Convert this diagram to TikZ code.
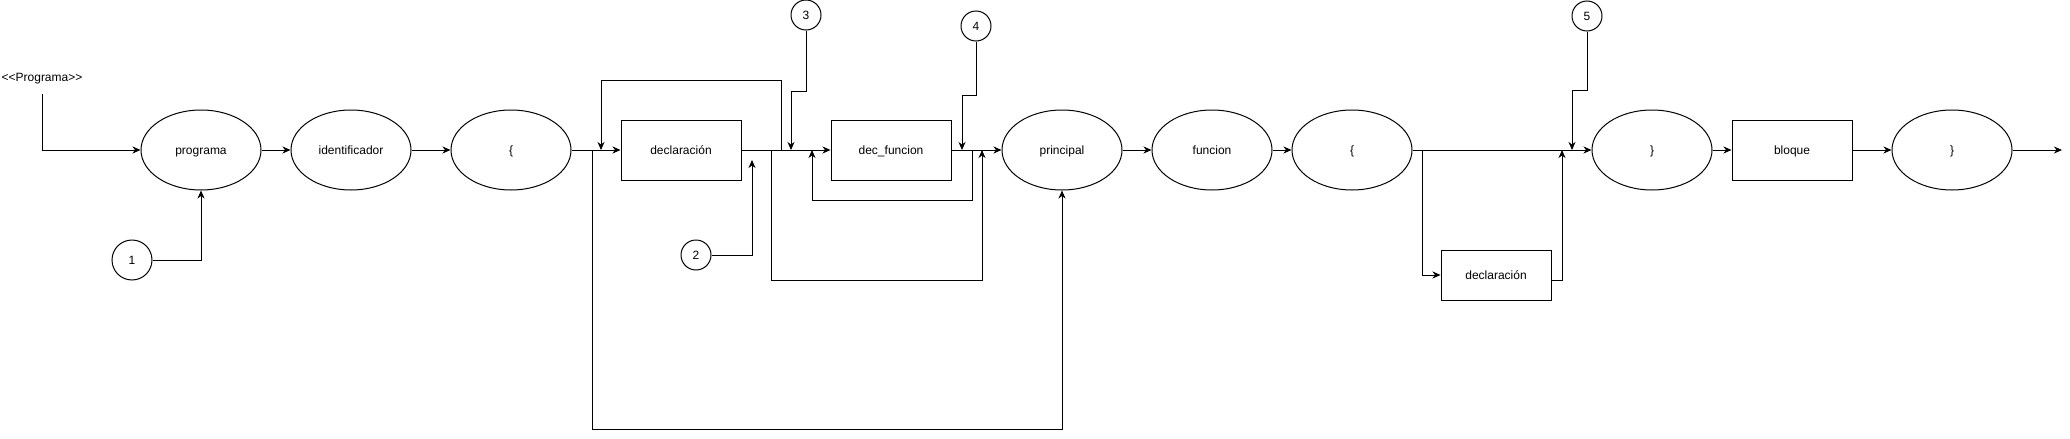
\documentclass[tikz,border=0pt]{standalone}
\usepackage{fontspec}
\newfontfamily\diagfont{Liberation Sans}
\usetikzlibrary{
	arrows.meta,
	shapes.geometric,
	calc
}

\tikzset{
	texto/.style = {font = \diagfont\fontsize{12}{14}\selectfont, inner sep = 0pt, text height = 10.9pt, text depth = 2.5pt},
	base/.style = {texto, draw, line width = 1pt},
	elipse/.style = {base, ellipse, minimum width = 120pt, minimum height = 80pt},
	caja/.style = {base, rectangle, minimum width = 120pt, minimum height = 60pt},
	numero/.style = {base, circle, minimum size = 30pt},
	flecha/.style = {line width = 1pt, -{Stealth[length = 8pt, width = 7pt, inset = 2.5pt]}}
}

\begin{document}
\begin{tikzpicture}[x = 1pt, y = -1pt]
	\useasboundingbox (0,0) rectangle (2070,439);
	
	\node (titulo) at (42, 77) [texto] {<<Programa>>};
	\coordinate (inicio) at (42, 94);
	
	\node (programa) at (201, 150) [elipse] {programa};
	\node (identificador) at (351, 150) [elipse] {identificador};
	\node (llave1) at (511, 150) [elipse] {\{};
	\node (decl1) at (681, 150) [caja] {declaración};
	\node (decfuncion) at (891, 150) [caja] {dec\_funcion};
	\node (principal) at (1062, 150) [elipse] {principal};
	\node (funcion) at (1212, 150) [elipse] {funcion};
	\node (llave2) at (1352, 150) [elipse] {\{};
	\node (decl2) at (1496, 275) [caja, minimum width = 110pt, minimum height = 50pt] {declaración};
	\node (cierre1) at (1652, 150) [elipse] {\}};
	\node (bloque) at (1792, 150) [caja] {bloque};
	\node (cierre2) at (1952, 150) [elipse] {\}};
	\coordinate (fin) at (2062, 150);
	
	% numeros
	\node (n1) at (132, 260) [numero, minimum size = 40pt] {1};
	\node (n2) at (696, 255) [numero] {2};
	\node (n3) at (806, 15) [numero] {3};
	\node (n4) at (976, 26) [numero] {4};
	\node (n5) at (1587, 16) [numero] {5};
	
	% puntos de union
	\coordinate (j1) at (592, 150);
	\coordinate (j2) at (601, 150);
	\coordinate (j3) at (771, 150);
	\coordinate (j4) at (781, 150);
	\coordinate (j5) at (791, 150);
	\coordinate (j6) at (812, 150);
	\coordinate (j7) at (962, 150);
	\coordinate (j8) at (972, 150);
	\coordinate (j9) at (982, 150);
	\coordinate (j10) at (1422, 150);
	\coordinate (j11) at (1562, 150);
	\coordinate (j12) at (1572, 150);
	\coordinate (p2) at (752, 160);
	
	\draw[flecha] (inicio) |- (programa);
	\draw[flecha] (n1) -| (programa);
	\draw[flecha] (programa) -- (identificador);
	\draw[flecha] (identificador) -- (llave1);
	\draw[flecha] (llave1) -- (decl1);
	\draw[flecha] (j1) -- ++(0, 279) -| (principal);
	\draw[flecha] (j4) -- ++(0, -70) -| (j2);
	\draw[flecha] (decl1) -- (decfuncion);
	\draw[flecha] (n2) -| (p2);
	\draw[flecha] (n3) -- ++(0, 76) -| (j5);
	\draw[flecha] (n4) -- ++(0, 69) -| (j7);
	\draw[flecha] (j8) -- ++(0, 50) -| (j6);
	\draw[flecha] (j3) -- ++(0, 130) -| (j9);
	\draw[flecha] (decfuncion) -- (principal);
	\draw[flecha] (principal) -- (funcion);
	\draw[flecha] (funcion) -- (llave2);
	\draw[flecha] (llave2) -- (cierre1);
	\draw[flecha] (j10) |- (decl2);
	\draw[flecha] ([yshift=-5pt]decl2.east) -| (j11);
	\draw[flecha] (n5) -- ++(0, 74) -| (j12);
	\draw[flecha] (cierre1) -- (bloque);
	\draw[flecha] (bloque) -- (cierre2);
	\draw[flecha] (cierre2) -- (fin);
	
\end{tikzpicture}
\end{document}
